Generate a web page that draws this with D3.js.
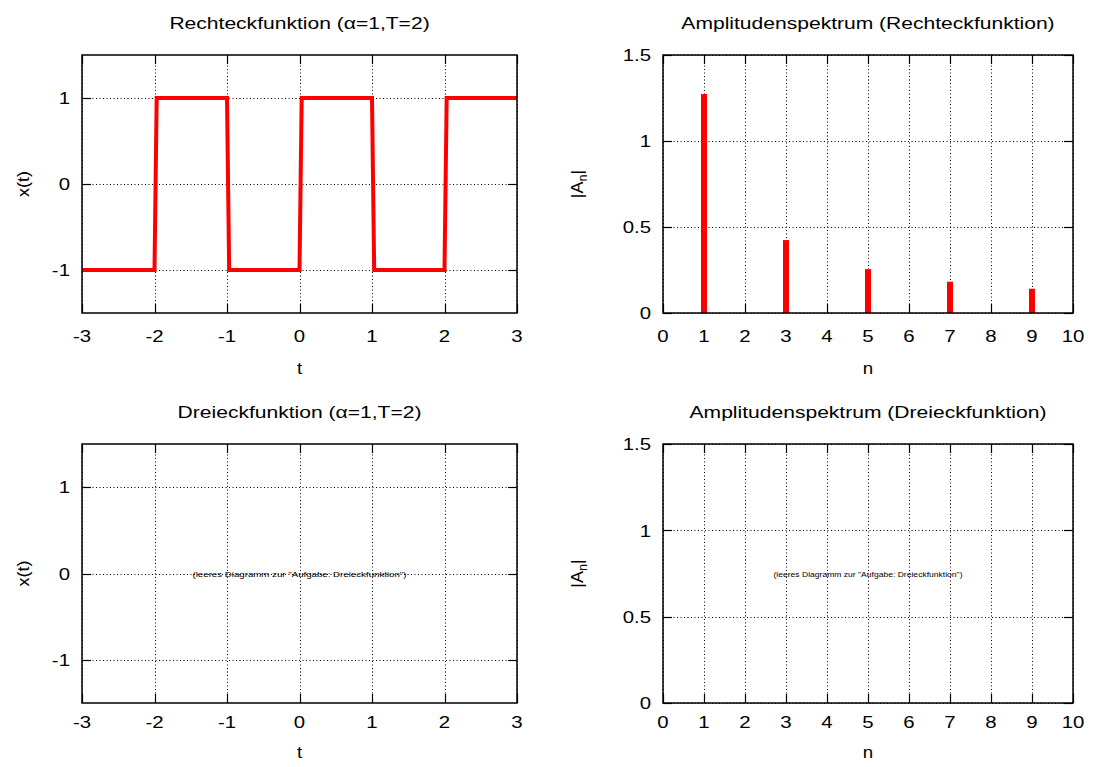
<!DOCTYPE html>
<html>
<head>
<meta charset="utf-8">
<script src="https://cdn.jsdelivr.net/npm/d3@7"></script>
<style>
  html, body { margin: 0; padding: 0; background: #fff; }
  svg { display: block; font-family: "Liberation Sans", Arial, Helvetica, sans-serif; }
</style>
</head>
<body>
<svg id="chart" width="1093" height="767"></svg>
<script>
// Square wave x(t) for alpha=1, T=2: vertices of the polyline
const squareT = [-3, -2, -1.97, -1, -0.97, 0, 0.03, 1, 1.03, 2, 2.03, 3];
const squareX = [-1, -1, 1, 1, -1, -1, 1, 1, -1, -1, 1, 1];

// Amplitude spectrum |A_n| of the square wave (odd harmonics only)
const harmonicN = [1, 3, 5, 7, 9];
const harmonicA = [1.273, 0.424, 0.255, 0.182, 0.141];

// Tick values
const tTicks = [-3, -2, -1, 0, 1, 2, 3];
const xTicks = [-1, 0, 1];
const nTicks = [0, 1, 2, 3, 4, 5, 6, 7, 8, 9, 10];
const aTicks = [0, 0.5, 1, 1.5];

// Titles and labels
const titles = [
  "Rechteckfunktion (\u03B1=1,T=2)",
  "Amplitudenspektrum (Rechteckfunktion)",
  "Dreieckfunktion (\u03B1=1,T=2)",
  "Amplitudenspektrum (Dreieckfunktion)"
];
const emptyNote = "(leeres Diagramm zur \"Aufgabe: Dreieckfunktion\")";

const svg = d3.select("#chart");
const FS = 17;

// text that is drawn slightly widened horizontally
function label(g, x, y, str, anchor, sx, rot) {
  return g.append("text")
    .attr("transform", `translate(${x},${y})${rot ? " rotate(" + rot + ")" : ""} scale(${sx},1)`)
    .attr("text-anchor", anchor).attr("font-size", FS).attr("fill", "#000")
    .text(str);
}

function panel(cfg) {
  const g = svg.append("g");
  const x = d3.scaleLinear().domain(cfg.xDomain).range([cfg.left, cfg.right]);
  const y = d3.scaleLinear().domain(cfg.yDomain).range([cfg.bottom, cfg.top]);

  // dotted grid
  const grid = g.append("g").attr("stroke", "#000").attr("stroke-width", 1)
    .attr("stroke-dasharray", "1,2.5");
  cfg.xTicks.forEach(v => {
    grid.append("line").attr("x1", Math.round(x(v)) + 0.5).attr("x2", Math.round(x(v)) + 0.5)
      .attr("y1", cfg.top).attr("y2", cfg.bottom);
  });
  cfg.yTicks.forEach(v => {
    grid.append("line").attr("y1", Math.round(y(v)) + 0.5).attr("y2", Math.round(y(v)) + 0.5)
      .attr("x1", cfg.left).attr("x2", cfg.right);
  });

  // inward ticks on all four sides (mirrored)
  const tl = 9;
  const ticks = g.append("g").attr("stroke", "#000").attr("stroke-width", 1.2);
  cfg.xTicks.forEach(v => {
    const px = Math.round(x(v)) + 0.5;
    ticks.append("line").attr("x1", px).attr("x2", px).attr("y1", cfg.bottom).attr("y2", cfg.bottom - tl);
    ticks.append("line").attr("x1", px).attr("x2", px).attr("y1", cfg.top).attr("y2", cfg.top + tl);
  });
  cfg.yTicks.forEach(v => {
    const py = Math.round(y(v)) + 0.5;
    ticks.append("line").attr("y1", py).attr("y2", py).attr("x1", cfg.left).attr("x2", cfg.left + tl);
    ticks.append("line").attr("y1", py).attr("y2", py).attr("x1", cfg.right).attr("x2", cfg.right - tl);
  });

  // note for empty diagrams
  if (cfg.note) {
    const t = g.append("text").attr("x", (cfg.left + cfg.right) / 2).attr("y", (cfg.top + cfg.bottom) / 2 + 3)
      .attr("text-anchor", "middle").attr("font-size", 8).attr("fill", "#000")
      .text(cfg.note);
    if (cfg.noteLength) t.attr("textLength", cfg.noteLength).attr("lengthAdjust", "spacingAndGlyphs");
  }

  if (cfg.draw) cfg.draw(g, x, y);

  // frame
  g.append("rect").attr("x", cfg.left).attr("y", cfg.top)
    .attr("width", cfg.right - cfg.left).attr("height", cfg.bottom - cfg.top)
    .attr("fill", "none").attr("stroke", "#000").attr("stroke-width", 1.5);

  // tick labels
  cfg.xTicks.forEach(v => label(g, x(v), cfg.bottom + cfg.tickOff, String(v), "middle", 1.2));
  cfg.yTicks.forEach(v => label(g, cfg.left - 12, y(v) + 6.3, String(v), "end", 1.2));

  // title
  label(g, (cfg.left + cfg.right) / 2, cfg.top - 26, cfg.title, "middle", 1.24);

  // x label
  label(g, (cfg.left + cfg.right) / 2, cfg.bottom + cfg.labelOff, cfg.xLabel, "middle", 1.1);

  // y label (rotated)
  const yl = label(g, cfg.yLabelX, (cfg.top + cfg.bottom) / 2, cfg.ySub ? "" : cfg.yLabel, "middle", 1.06, -90);
  if (cfg.ySub) {
    yl.append("tspan").text(cfg.yLabel);
    yl.append("tspan").attr("font-size", 12).attr("dy", 4).text(cfg.ySub);
    yl.append("tspan").attr("dy", -4).text("|");
  }
}

const leftL = 82, leftR = 517, rightL = 663, rightR = 1073;
const row1Top = 55, row1Bot = 313, row2Top = 444, row2Bot = 703;

// Top left: square wave
panel({
  left: leftL, right: leftR, top: row1Top, bottom: row1Bot, tickOff: 29, labelOff: 61,
  xDomain: [-3, 3], yDomain: [-1.5, 1.5], xTicks: tTicks, yTicks: xTicks,
  title: titles[0], xLabel: "t", yLabel: "x(t)", yLabelX: 29,
  draw: (g, x, y) => {
    const pts = squareT.map((t, i) => [t, squareX[i]]);
    g.append("path").datum(pts)
      .attr("d", d3.line().x(d => x(d[0])).y(d => y(d[1])))
      .attr("fill", "none").attr("stroke", "#ff0000").attr("stroke-width", 4)
      .attr("stroke-linejoin", "miter");
  }
});

// Top right: amplitude spectrum of square wave
panel({
  left: rightL, right: rightR, top: row1Top, bottom: row1Bot, tickOff: 29, labelOff: 61,
  xDomain: [0, 10], yDomain: [0, 1.5], xTicks: nTicks, yTicks: aTicks,
  title: titles[1], xLabel: "n", yLabel: "|A", ySub: "n", yLabelX: 583,
  draw: (g, x, y) => {
    g.selectAll("rect.bar").data(harmonicN.map((n, i) => [n, harmonicA[i]]))
      .enter().append("rect").attr("class", "bar")
      .attr("x", d => x(d[0]) - 3).attr("width", 6)
      .attr("y", d => y(d[1])).attr("height", d => y(0) - y(d[1]))
      .attr("fill", "#ff0000");
  }
});

// Bottom left: triangle wave (empty)
panel({
  left: leftL, right: leftR, top: row2Top, bottom: row2Bot, tickOff: 25, labelOff: 55,
  xDomain: [-3, 3], yDomain: [-1.5, 1.5], xTicks: tTicks, yTicks: xTicks,
  title: titles[2], xLabel: "t", yLabel: "x(t)", yLabelX: 29,
  note: emptyNote, noteLength: 214
});

// Bottom right: amplitude spectrum of triangle wave (empty)
panel({
  left: rightL, right: rightR, top: row2Top, bottom: row2Bot, tickOff: 25, labelOff: 55,
  xDomain: [0, 10], yDomain: [0, 1.5], xTicks: nTicks, yTicks: aTicks,
  title: titles[3], xLabel: "n", yLabel: "|A", ySub: "n", yLabelX: 583,
  note: emptyNote, noteLength: 189
});
</script>
</body>
</html>
